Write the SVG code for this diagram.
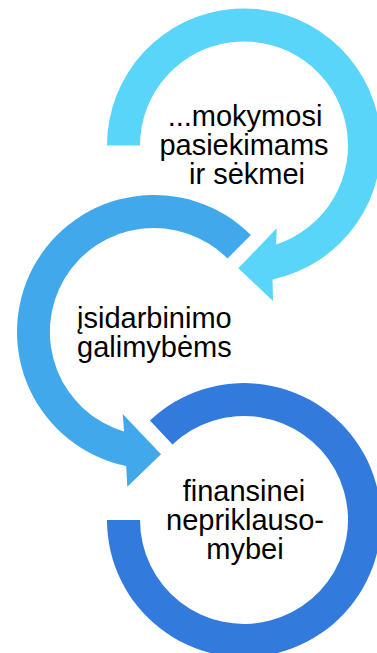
<svg xmlns="http://www.w3.org/2000/svg" width="377" height="653" viewBox="0 0 377 653">
<style>
.lbl{font-family:"Liberation Sans",Arial,sans-serif;font-size:29px;fill:#000}
</style>
<rect width="377" height="653" fill="#fff"/>
<g id="connectors"></g>
<g id="node-3">
<path d="M107,520 A137,137 0 1,0 149.9,420.5 L172.5,444.4 A104,104 0 1,1 140,520 Z" fill="#327ADC"/>
<text class="lbl" text-anchor="middle"><tspan x="244" y="501">finansinei</tspan><tspan x="245" y="530">nepriklauso-</tspan><tspan x="245" y="559">mybei</tspan></text>
</g>
<g id="node-2">
<path d="M250.9,235.1 A137,137 0 1,0 126.2,466.1 L127.3,486.7 L161,454.3 L122.7,414 L124.1,431.6 A104,104 0 1,1 227.5,258.5 Z" fill="#41A8EC"/>
<text class="lbl"><tspan x="77" y="328.3">įsidarbinimo</tspan><tspan x="77" y="356.7">galimybėms</tspan></text>
</g>
<g id="node-1">
<path d="M107,145.5 A137,137 0 1,1 272.5,279.5 L273,301 L238.3,268.3 L276.7,228.3 L276.1,244.4 A104,104 0 1,0 140,145.5 Z" fill="#5AD5FA"/>
<text class="lbl" text-anchor="middle"><tspan x="245" y="126">...mokymosi</tspan><tspan x="244" y="155">pasiekimams</tspan><tspan x="247" y="183.5">ir sėkmei</tspan></text>
</g>
</svg>
